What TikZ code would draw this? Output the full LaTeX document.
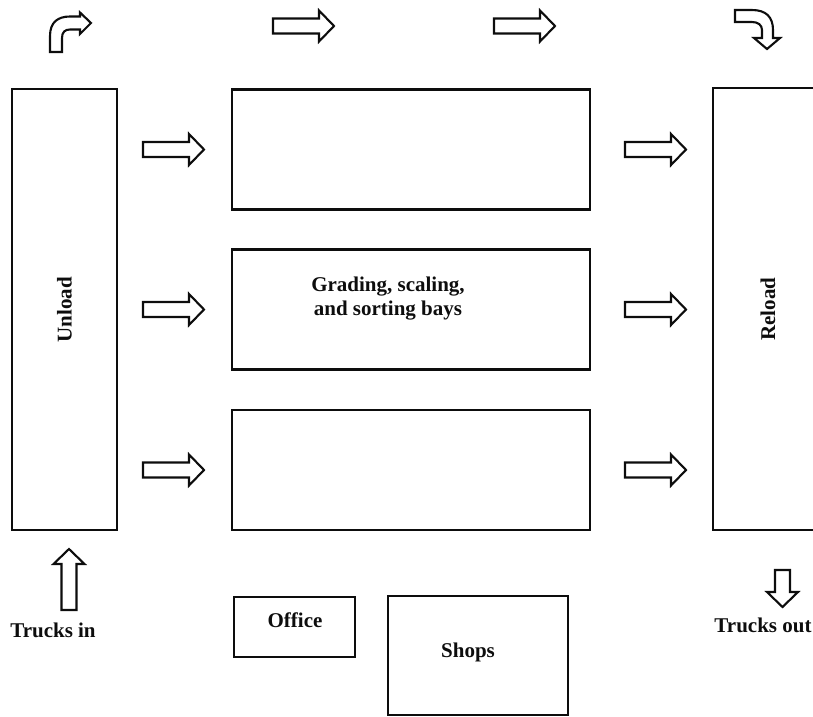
\documentclass[tikz,border=0pt]{standalone}
\usepackage{fontspec}
\setmainfont{Liberation Serif}
\usetikzlibrary{positioning}
\definecolor{inkblack}{gray}{0.05}

\tikzset{
  plan/.style={draw=inkblack, line width=2.1pt},
  bay/.style={plan, minimum width=358, minimum height=120},
  lbl/.style={font=\fontsize{21}{24}\selectfont\bfseries, text=inkblack, inner sep=0pt},
  pics/flow/.style={code={
    \draw[plan] (0,-7.5) -- (#1-15,-7.5) -- (#1-15,-15.5) -- (#1,0)
      -- (#1-15,15.5) -- (#1-15,7.5) -- (0,7.5) -- cycle;
  }},
  pics/flow/.default=61
}

\begin{document}
\begin{tikzpicture}[x=1pt,y=-1pt]
\useasboundingbox (0,0) rectangle (813,716);

% halls
\node[plan, minimum width=105, minimum height=441] (unload) at (64.5,309.5) {};
\node[lbl, rotate=90] (unloadtxt) at (unload.center) {Unload};
\node[plan, minimum width=110, minimum height=442] (reload) at (768,309) {};
\node[lbl, rotate=90] (reloadtxt) at (reload.center) {Reload};

% bays
\node[bay] (bayA) at (411,149.5) {};
\node[bay] (bayB) at (411,309.5) {};
\node[bay] (bayC) at (411,470) {};
\node[lbl, align=center] (baytxt) at (388,299) {Grading, scaling,\\and sorting bays};

% office and shops
\node[plan, minimum width=121, minimum height=60] (office) at (294.5,627) {};
\node[lbl, anchor=base] (officetxt) at (295,627) {Office};
\node[plan, minimum width=180, minimum height=119] (shops) at (478,655.5) {};
\node[lbl, anchor=base] (shopstxt) at (468,657) {Shops};

% flow arrows
\foreach \y in {149.5,309.5,470} {
  \pic at (143,\y) {flow};
  \pic at (625,\y) {flow};
}
\pic at (273,26) {flow};
\pic at (494,26) {flow};
\pic[rotate=90] at (69,610) {flow};
\pic[rotate=-90] at (782.5,570) {flow=37};

% bent arrows
\draw[plan] (50,52) -- (50,36) .. controls (50,22) and (58,16.5) .. (70,16.5)
  -- (80,16.5) -- (80,12.5) -- (91,23) -- (80,34) -- (80,29.5) -- (70,29.5)
  .. controls (65,29.5) and (62,32) .. (62,38) -- (62,52) -- cycle;
\draw[plan] (735,10) -- (752,10) .. controls (766,10) and (773,17) .. (773,30)
  -- (773,38) -- (780,38) -- (767,49) -- (754,38) -- (762,38) -- (762,30)
  .. controls (762,25) and (758,22) .. (752,22) -- (735,22) -- cycle;

% trucks
\node[lbl, anchor=base] (trucksin) at (53,637) {Trucks in};
\node[lbl, anchor=base] (trucksout) at (763,632) {Trucks out};
\end{tikzpicture}
\end{document}
